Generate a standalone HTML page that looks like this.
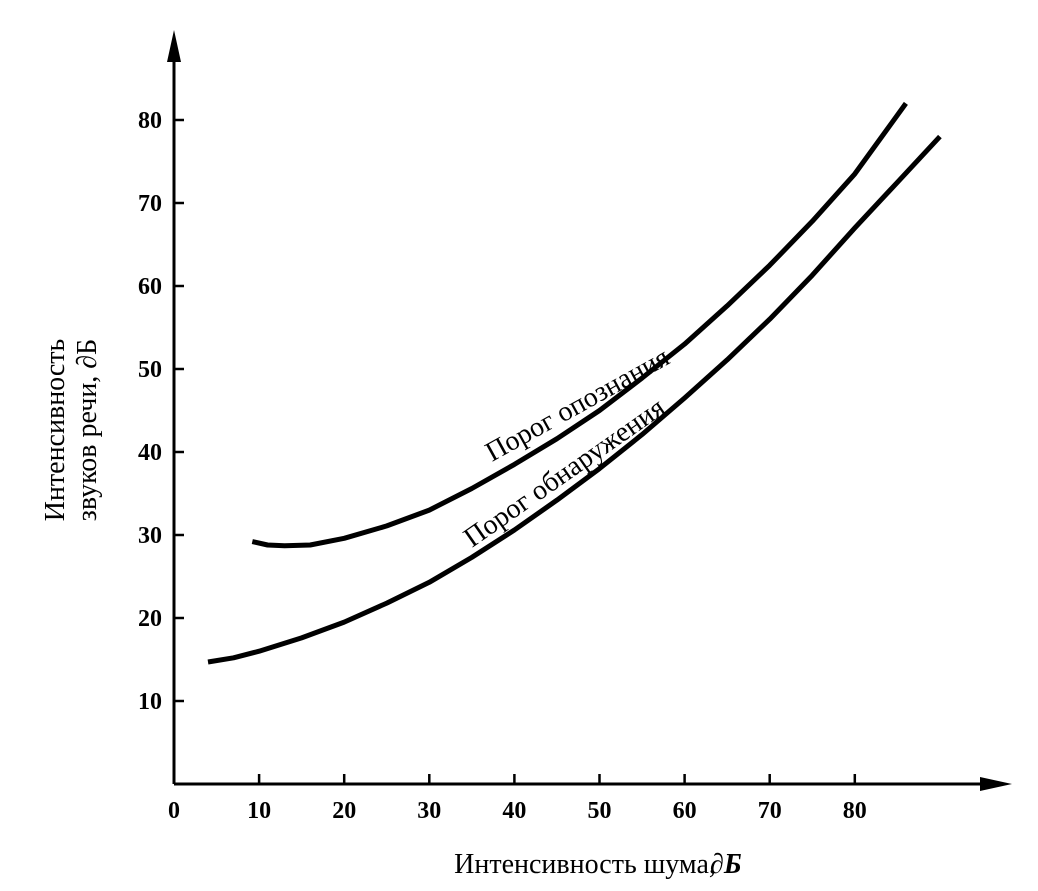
<!DOCTYPE html>
<html><head><meta charset="utf-8"><style>
body{margin:0;background:#fff;}
svg{display:block;font-family:"Liberation Serif",serif;}
</style></head><body>
<svg width="1038" height="891" viewBox="0 0 1038 891">
<g id="axes"></g>
<g id="series"></g>
<g id="labels"></g>
</svg>
<script>
const xTicks=[0,10,20,30,40,50,60,70,80];
const yTicks=[10,20,30,40,50,60,70,80];
const recX=[9.2,11,13,16,20,25,30,35,40,45,50,55,60,65,70,75,80,86];
const recY=[29.2,28.8,28.7,28.8,29.6,31.1,33,35.6,38.5,41.6,45,48.9,53,57.6,62.5,67.8,73.5,82];
const detX=[4,7,10,15,20,25,30,35,40,45,50,55,60,65,70,75,80,85,90];
const detY=[14.7,15.2,16,17.6,19.5,21.8,24.3,27.3,30.6,34.2,38,42.1,46.5,51.1,56,61.3,67,72.5,78];
const ns="http://www.w3.org/2000/svg";
const X0=174,Y0=784,KX=8.51,KY=8.3;
const sx=v=>X0+v*KX, sy=v=>Y0-v*KY;
function mk(tag,attrs,parent,text){const e=document.createElementNS(ns,tag);for(const k in attrs)e.setAttribute(k,attrs[k]);if(text!==undefined)e.textContent=text;document.getElementById(parent).appendChild(e);return e;}
let e;
e=mk('line',{x1:X0,y1:Y0,x2:X0,y2:45,stroke:'#000','stroke-width':3},'axes');


e=mk('polygon',{points:`${X0},30 ${X0-7},62 ${X0+7},62`,fill:'#000'},'axes');


e=mk('line',{x1:X0,y1:Y0,x2:995,y2:Y0,stroke:'#000','stroke-width':3},'axes');


e=mk('polygon',{points:`1012,${Y0} 980,${Y0-7} 980,${Y0+7}`,fill:'#000'},'axes');


xTicks.forEach(v=>{
 if(v>0){e=mk('line',{x1:sx(v),y1:Y0,x2:sx(v),y2:Y0-10,stroke:'#000','stroke-width':2.5},'axes');
 
 }
 e=mk('text',{x:sx(v),y:Y0+34,'font-size':24,'text-anchor':'middle','font-weight':'bold'},'axes',String(v));
 
 
});
yTicks.forEach(v=>{
 e=mk('line',{x1:X0,y1:sy(v),x2:X0+10,y2:sy(v),stroke:'#000','stroke-width':2.5},'axes');
 
 
 e=mk('text',{x:X0-12,y:sy(v)+8,'font-size':24,'text-anchor':'end','font-weight':'bold'},'axes',String(v));
 
 
});
function path(xs,ys){return xs.map((x,i)=>(i?'L':'M')+sx(x).toFixed(1)+','+sy(ys[i]).toFixed(1)).join(' ');}
e=mk('path',{d:path(recX,recY),fill:'none',stroke:'#000','stroke-width':5,'stroke-linejoin':'round'},'series');


e=mk('path',{d:path(detX,detY),fill:'none',stroke:'#000','stroke-width':5,'stroke-linejoin':'round'},'series');


e=mk('text',{x:0,y:0,'font-size':28,transform:'translate(492,462) rotate(-29)'},'labels','Порог опознания');


e=mk('text',{x:0,y:0,'font-size':28,transform:'translate(472,548) rotate(-35)'},'labels','Порог обнаружения');


e=mk('text',{x:585,y:873,'font-size':28,'text-anchor':'middle'},'labels','Интенсивность шума, ');


e=mk('text',{x:710,y:873,'font-size':28,'font-style':'italic','font-weight':'bold'},'labels','∂Б');


e=mk('text',{x:0,y:0,'font-size':28,'text-anchor':'middle',transform:'translate(64,430) rotate(-90)'},'labels','Интенсивность');


e=mk('text',{x:0,y:0,'font-size':28,'text-anchor':'middle',transform:'translate(96,430) rotate(-90)'},'labels','звуков речи, ∂Б');


</script>
</body></html>
